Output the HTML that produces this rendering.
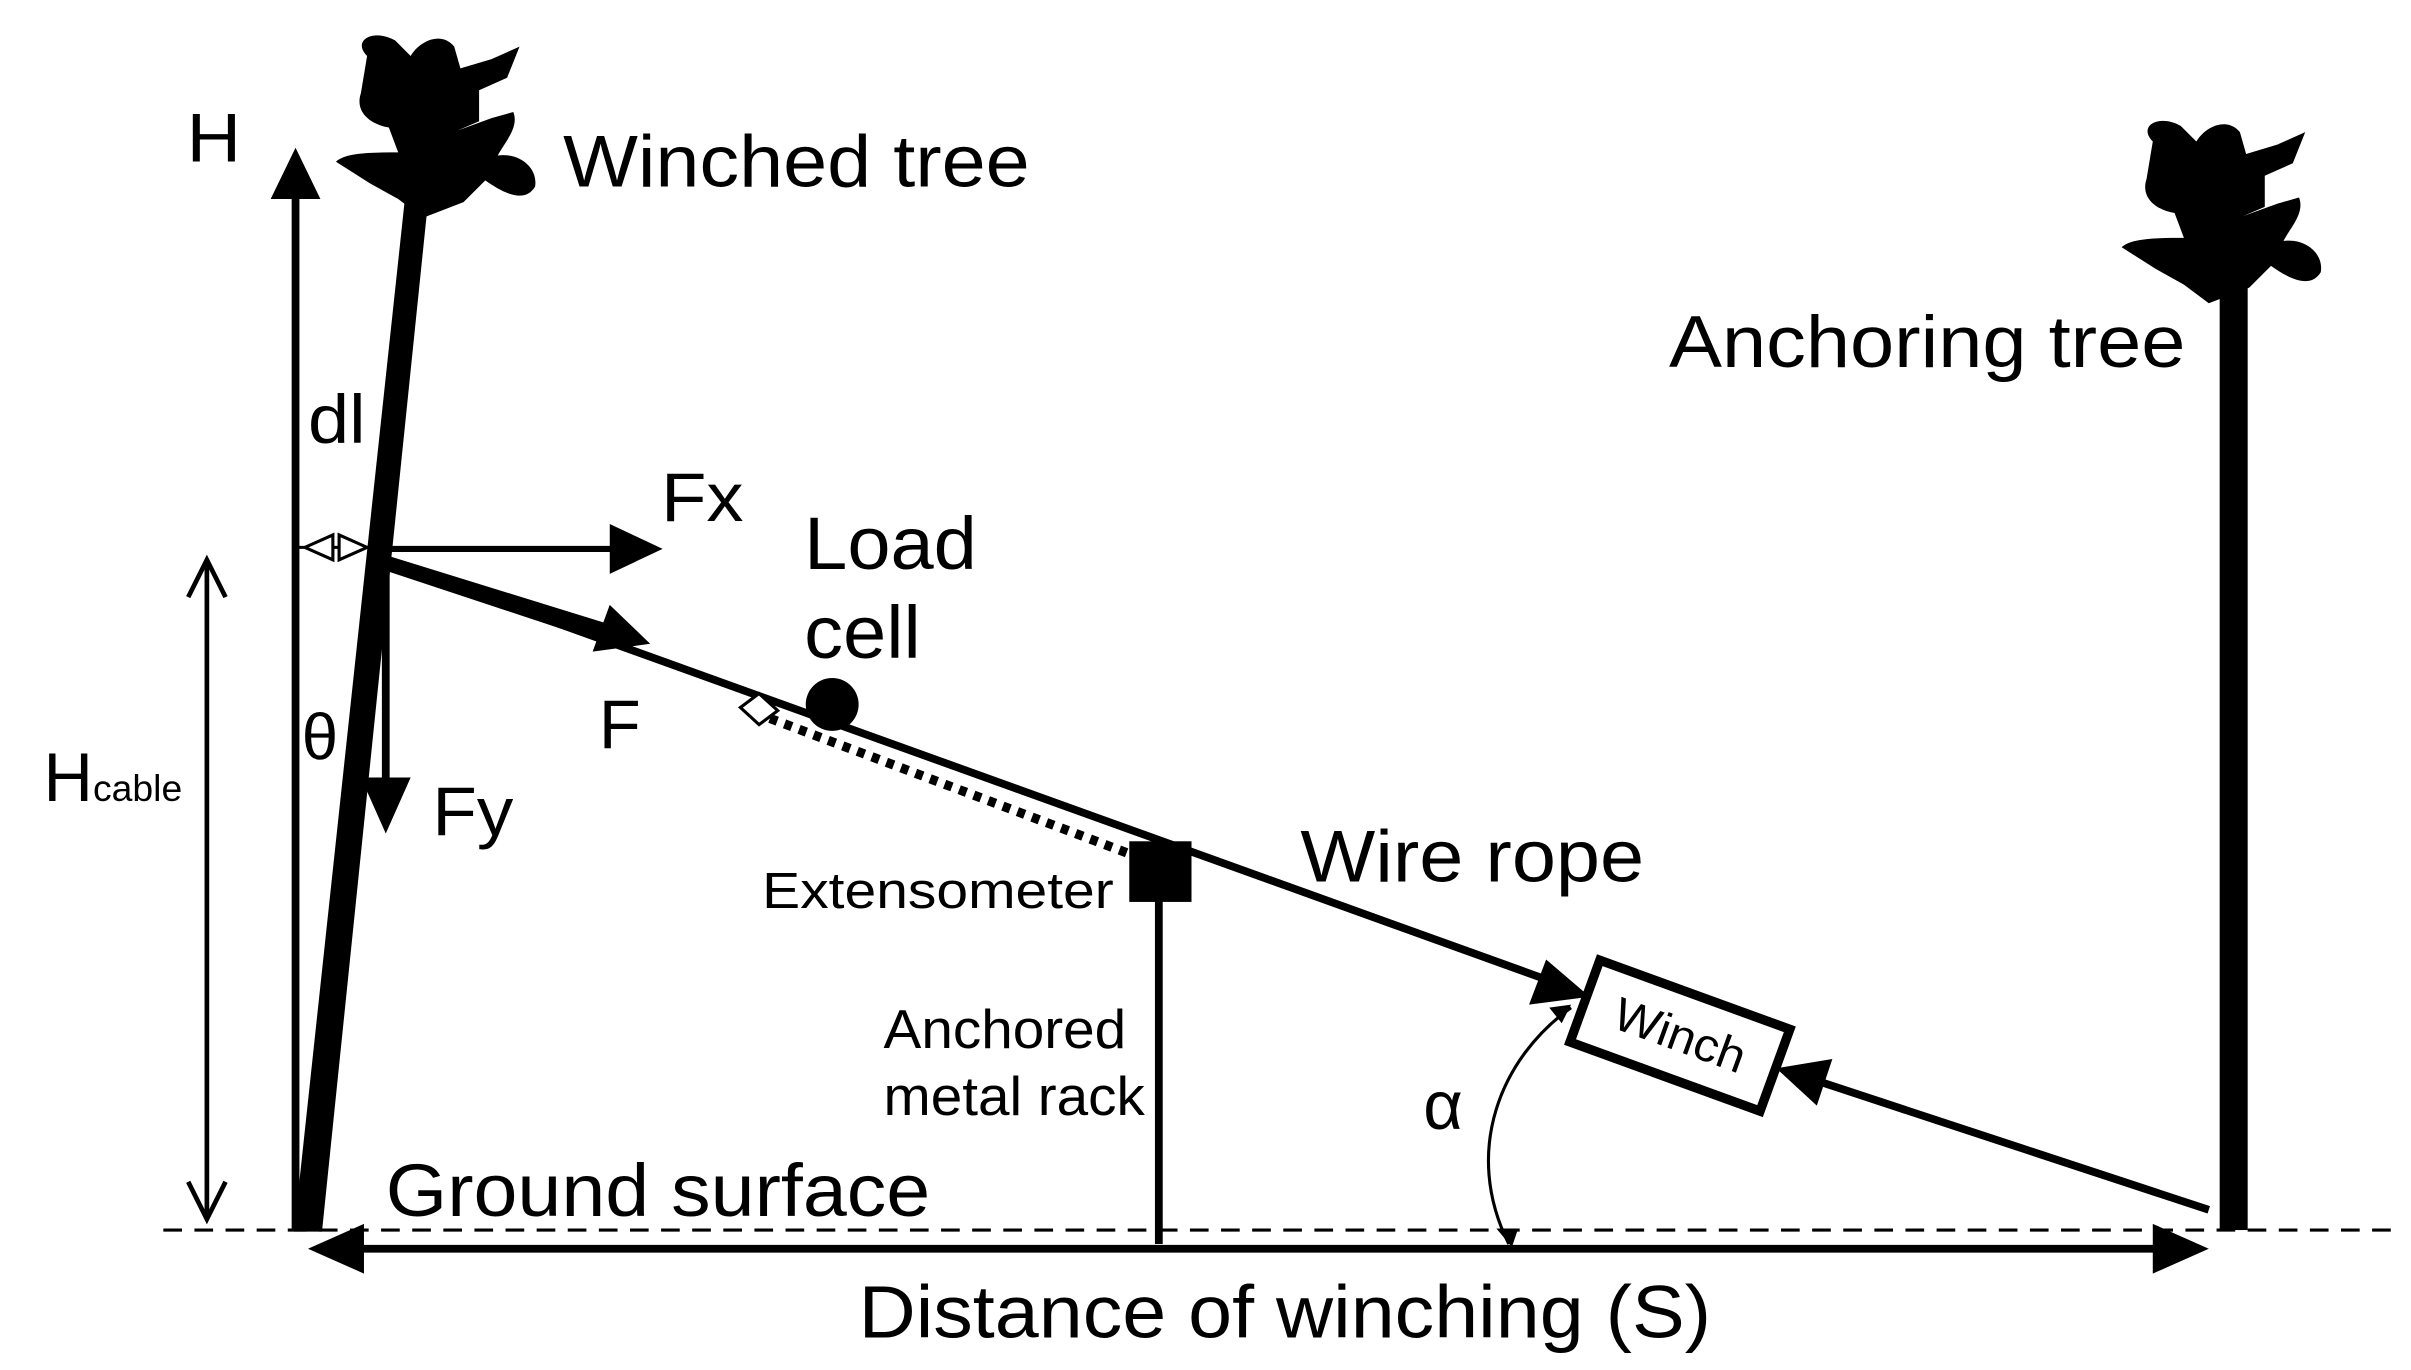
<!DOCTYPE html>
<html><head><meta charset="utf-8"><style>
html,body{margin:0;padding:0;background:#fff;}
svg{display:block;}
text{font-family:"Liberation Sans",sans-serif;fill:#000;}
</style></head><body>
<svg width="2411" height="1370" viewBox="0 0 1550 881" preserveAspectRatio="none" xmlns="http://www.w3.org/2000/svg">
<defs>
<path id="crown" d="M236,36 C226,26 240,18 254,26 L264,36 C270,26 284,20 292,30 L296,44 L316,38 L334,30 L326,50 L308,58 L308,78 L294,84 L316,76 L330,72 C334,82 324,92 320,100 C334,98 346,108 344,120 C338,130 326,126 312,116 L298,130 L272,140 L256,128 L238,118 L216,104 C222,98 240,98 256,98 L250,82 C238,80 228,72 232,60 Z"/>
</defs>
<line x1="105" y1="791" x2="1540" y2="791" stroke="#000" stroke-width="2" stroke-dasharray="12,8"/>
<line x1="190" y1="790" x2="190" y2="125" stroke="#000" stroke-width="5"/>
<polygon points="190,95 174,128 206,128" fill="#000"/>
<text x="120" y="104" font-size="44" textLength="35" lengthAdjust="spacingAndGlyphs">H</text>
<use href="#crown"/>
<polygon points="189,792 207,792 277,112 262,112" fill="#000"/>
<text x="362" y="120" font-size="47" textLength="300" lengthAdjust="spacingAndGlyphs">Winched tree</text>
<text x="198" y="285" font-size="44" textLength="37" lengthAdjust="spacingAndGlyphs">dl</text>
<text x="194" y="488" font-size="42">θ</text>
<line x1="133" y1="360" x2="133" y2="784" stroke="#000" stroke-width="3"/>
<polyline points="121,384 133,360 145,384" fill="none" stroke="#000" stroke-width="3"/>
<polyline points="121,760 133,784 145,760" fill="none" stroke="#000" stroke-width="3"/>
<text x="28" y="515" font-size="44">H<tspan font-size="24">cable</tspan></text>
<line x1="192" y1="352" x2="238" y2="352" stroke="#000" stroke-width="2"/>
<polygon points="196,352 214,344 214,360" fill="#fff" stroke="#000" stroke-width="2"/>
<polygon points="236,352 218,344 218,360" fill="#fff" stroke="#000" stroke-width="2"/>
<line x1="245" y1="353" x2="395" y2="353" stroke="#000" stroke-width="4"/>
<polygon points="426,353 392,337 392,369" fill="#000"/>
<text x="425" y="335" font-size="44" textLength="53" lengthAdjust="spacingAndGlyphs">Fx</text>
<line x1="248" y1="355" x2="248" y2="505" stroke="#000" stroke-width="5"/>
<polygon points="248,536 232,500 264,500" fill="#000"/>
<text x="278" y="537" font-size="44" textLength="52" lengthAdjust="spacingAndGlyphs">Fy</text>
<line x1="245" y1="360" x2="1000" y2="632" stroke="#000" stroke-width="5"/>
<polygon points="245,356 400,404 396,416 245,366" fill="#000"/>
<polygon points="418,414 381,419 392,389" fill="#000"/>
<text x="385" y="481" font-size="44">F</text>
<polygon points="1022,641 983,646 994,617" fill="#000"/>
<circle cx="535" cy="453" r="17" fill="#000"/>
<polygon points="476,455 488,446 500,457 488,466" fill="#fff" stroke="#000" stroke-width="2"/>
<text x="517" y="366" font-size="48" textLength="111" lengthAdjust="spacingAndGlyphs">Load</text>
<text x="517" y="423" font-size="48" textLength="75" lengthAdjust="spacingAndGlyphs">cell</text>
<line x1="495" y1="462" x2="726" y2="549" stroke="#000" stroke-width="6" stroke-dasharray="5,5"/>
<rect x="726" y="541" width="40" height="39" fill="#000"/>
<text x="490" y="584" font-size="33" textLength="226" lengthAdjust="spacingAndGlyphs">Extensometer</text>
<line x1="745" y1="578" x2="745" y2="800" stroke="#000" stroke-width="5"/>
<text x="568" y="674" font-size="35" textLength="156" lengthAdjust="spacingAndGlyphs">Anchored</text>
<text x="568" y="717" font-size="35" textLength="168" lengthAdjust="spacingAndGlyphs">metal rack</text>
<text x="836" y="567" font-size="47" textLength="221" lengthAdjust="spacingAndGlyphs">Wire rope</text>
<g transform="translate(1080,666) rotate(20)">
<rect x="-65" y="-28" width="130" height="56" fill="#fff" stroke="#000" stroke-width="6"/>
<text x="0" y="10" font-size="30" text-anchor="middle" textLength="88" lengthAdjust="spacingAndGlyphs">Winch</text>
</g>
<line x1="1420" y1="778" x2="1165" y2="694" stroke="#000" stroke-width="5"/>
<polygon points="1142,687 1178,681 1168,711" fill="#000"/>
<path d="M1010,648 C965,680 940,740 970,800" fill="none" stroke="#000" stroke-width="2"/>
<polygon points="1010,646 996,648 1004,658" fill="#000"/>
<polygon points="972,802 962,790 976,790" fill="#000"/>
<text x="915" y="726" font-size="44">α</text>
<use href="#crown" transform="translate(1148,55)"/>
<rect x="1427" y="180" width="18" height="611" fill="#000"/>
<text x="1073" y="236" font-size="47" textLength="332" lengthAdjust="spacingAndGlyphs">Anchoring tree</text>
<line x1="225" y1="803" x2="1390" y2="803" stroke="#000" stroke-width="5"/>
<polygon points="198,803 234,787 234,819" fill="#000"/>
<polygon points="1420,803 1384,787 1384,819" fill="#000"/>
<text x="552" y="860" font-size="48" textLength="548" lengthAdjust="spacingAndGlyphs">Distance of winching (S)</text>
<text x="248" y="782" font-size="48" textLength="350" lengthAdjust="spacingAndGlyphs">Ground surface</text>
</svg>
</body></html>
